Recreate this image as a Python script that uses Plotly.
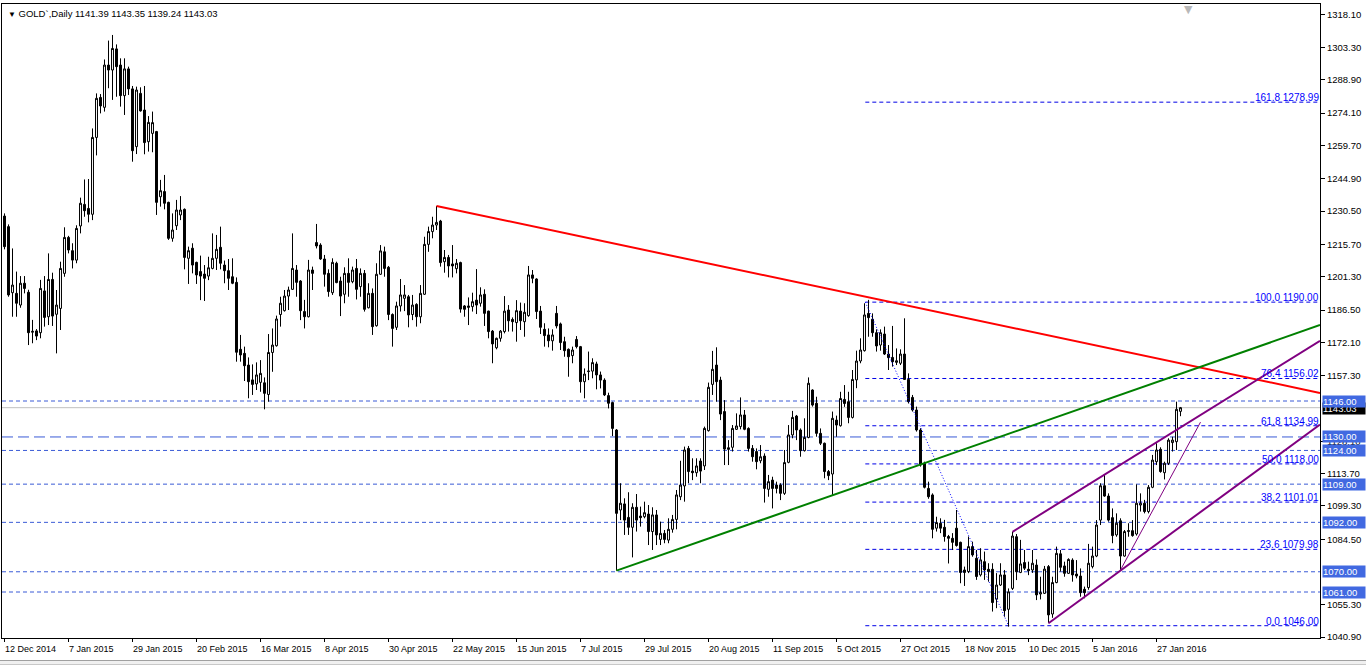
import plotly.graph_objects as go

# ---------------- data ----------------
open_ = [
1228.3,1223.6,1194.2,1193.9,1188.7,1198.4,1194.4,1176.6,1177.2,1176.4,
1195.0,1183.5,1200.1,1184.6,1187.2,1202.8,1218.8,1212.9,1208.7,1223.9,
1233.5,1231.7,1229.1,1263.3,1281.1,1276.7,1295.5,1293.3,1302.7,1295.5,
1281.9,1293.8,1284.9,1259.2,1282.9,1275.5,1261.4,1265.1,1265.9,1236.9,
1239.2,1234.4,1218.4,1224.0,1228.8,1231.3,1209.5,1214.0,1207.7,1203.6,
1202.5,1201.6,1205.0,1209.5,1214.4,1206.5,1204.0,1201.3,1198.8,1169.0,
1167.2,1162.0,1155.4,1153.6,1154.3,1154.1,1148.9,1167.6,1170.6,1184.5,
1186.2,1192.7,1195.7,1204.3,1199.4,1185.8,1183.5,1204.3,1216.5,1215.4,
1209.2,1202.8,1194.2,1207.3,1199.4,1193.5,1202.8,1199.1,1205.0,1196.9,
1202.8,1187.5,1193.9,1179.5,1202.4,1212.4,1205.5,1184.5,1178.8,1188.3,
1191.7,1192.4,1184.5,1189.0,1183.5,1193.5,1215.7,1221.4,1224.3,1226.1,
1208.0,1209.9,1207.0,1204.9,1207.6,1188.3,1188.3,1188.0,1190.9,1189.5,
1193.5,1186.0,1177.1,1169.7,1173.9,1176.9,1186.5,1182.3,1180.9,1186.0,
1181.3,1184.0,1202.1,1200.3,1186.0,1177.9,1175.4,1172.8,1185.0,1180.3,
1172.4,1169.0,1166.2,1173.4,1170.2,1154.6,1159.1,1159.3,1162.5,1157.6,
1155.3,1148.4,1145.3,1133.1,1097.5,1100.2,1094.2,1089.8,1098.7,1094.8,
1094.5,1095.7,1087.9,1095.3,1084.4,1087.1,1084.1,1088.9,1093.3,1103.4,
1108.2,1124.9,1114.8,1114.1,1119.3,1117.1,1132.8,1153.4,1162.0,1155.3,
1141.3,1125.2,1125.4,1133.4,1134.6,1139.8,1133.8,1124.9,1123.5,1119.4,
1121.5,1106.7,1110.8,1108.6,1108.6,1104.9,1118.7,1130.9,1139.3,1133.1,
1123.9,1129.8,1150.9,1145.0,1131.6,1127.2,1114.6,1113.5,1137.5,1135.0,
1146.7,1145.7,1138.7,1155.4,1163.8,1168.4,1185.0,1182.4,1176.4,1170.9,
1175.8,1166.9,1165.4,1163.2,1162.8,1166.9,1155.6,1147.6,1142.0,1133.1,
1118.3,1107.1,1104.2,1089.4,1091.6,1089.8,1085.7,1084.9,1089.4,1083.1,
1070.8,1070.1,1081.2,1076.0,1068.6,1074.5,1071.1,1071.1,1057.8,1064.1,
1068.6,1053.3,1062.6,1085.6,1069.7,1074.1,1071.1,1070.8,1073.0,1060.1,
1060.4,1072.3,1051.2,1065.2,1078.0,1072.6,1069.3,1075.2,1069.0,1068.1,
1062.2,1063.0,1072.3,1077.0,1093.0,1108.3,1103.7,1094.1,1086.4,1092.7,
1077.0,1087.9,1088.3,1086.8,1099.7,1100.5,1096.8,1107.6,1119.0,1124.5,
1114.1,1118.3,1127.5,1127.9,1141.39]

high = [
1229.5,1224.6,1213.9,1203.6,1201.6,1201.6,1195.5,1182.1,1178.0,1199.9,
1201.6,1211.7,1203.1,1195.4,1208.0,1223.3,1219.5,1216.2,1224.2,1236.5,
1244.6,1244.8,1267.3,1282.9,1282.6,1298.0,1306.4,1308.9,1304.7,1298.5,
1298.5,1294.8,1286.2,1285.9,1285.6,1286.2,1272.8,1274.8,1266.2,1244.4,
1246.6,1234.7,1229.5,1235.5,1237.2,1231.7,1214.7,1216.2,1208.0,1210.7,
1206.5,1210.2,1220.6,1219.9,1223.6,1208.5,1209.2,1209.5,1201.0,1175.4,
1170.2,1165.4,1162.3,1163.2,1164.2,1156.5,1175.8,1178.3,1184.0,1192.4,
1195.4,1196.9,1220.6,1206.5,1199.8,1191.0,1208.8,1205.8,1224.8,1216.2,
1211.0,1204.6,1209.5,1208.0,1201.3,1205.5,1209.5,1205.8,1209.2,1205.0,
1204.3,1198.4,1196.1,1207.3,1215.4,1214.7,1206.1,1185.0,1190.2,1200.3,
1197.6,1193.2,1193.2,1189.5,1197.6,1219.1,1223.6,1228.0,1232.8,1226.6,
1213.2,1211.0,1215.4,1209.2,1208.0,1188.7,1192.1,1194.2,1204.7,1196.6,
1195.7,1186.2,1177.6,1174.2,1177.6,1192.7,1188.7,1183.2,1190.9,1189.8,
1189.5,1206.1,1204.3,1200.6,1188.3,1180.6,1178.3,1177.9,1188.3,1180.9,
1174.6,1169.4,1170.2,1174.9,1170.5,1160.5,1168.0,1165.0,1163.5,1159.1,
1156.1,1149.7,1145.7,1133.5,1109.4,1102.7,1105.4,1100.5,1104.6,1099.0,
1101.2,1099.7,1098.7,1097.5,1092.3,1088.6,1093.8,1095.3,1106.4,1119.4,
1125.7,1126.0,1120.5,1120.5,1120.5,1134.6,1154.2,1168.3,1169.9,1156.8,
1146.4,1128.6,1135.3,1140.5,1147.6,1142.0,1134.3,1126.4,1124.9,1126.4,
1122.7,1113.1,1112.3,1110.1,1109.4,1124.2,1135.3,1141.6,1139.8,1133.8,
1138.3,1156.5,1151.2,1147.9,1133.8,1127.5,1115.3,1141.3,1139.5,1150.1,
1153.1,1150.1,1159.8,1168.4,1173.9,1189.5,1191.0,1185.0,1177.9,1177.9,
1179.1,1170.9,1179.4,1169.4,1169.0,1182.8,1158.3,1148.7,1143.5,1133.9,
1119.0,1110.1,1104.9,1094.5,1093.8,1093.1,1086.4,1087.2,1097.5,1083.4,
1072.3,1085.7,1083.4,1079.7,1080.5,1079.0,1073.8,1073.8,1069.4,1073.8,
1070.8,1062.6,1087.8,1086.8,1084.2,1079.7,1074.5,1079.7,1075.5,1067.8,
1072.6,1073.0,1067.8,1081.2,1079.7,1074.5,1076.0,1076.0,1075.2,1071.5,
1063.4,1082.4,1081.2,1093.0,1109.4,1113.1,1104.9,1098.2,1096.0,1093.8,
1088.6,1091.6,1093.0,1108.9,1104.9,1102.0,1108.6,1122.0,1127.2,1125.4,
1119.0,1129.4,1130.1,1145.7,1143.35]

low = [
1213.5,1192.4,1183.5,1183.5,1187.5,1193.9,1170.9,1171.7,1173.1,1173.9,
1179.1,1179.8,1179.4,1167.2,1177.6,1201.3,1211.7,1205.0,1207.3,1220.6,
1228.0,1225.5,1226.5,1255.3,1274.0,1274.8,1285.2,1280.0,1281.4,1277.0,
1273.3,1282.2,1252.5,1255.9,1274.8,1255.8,1257.0,1256.7,1228.8,1232.5,
1231.3,1217.7,1216.9,1222.1,1226.5,1204.6,1198.1,1202.8,1198.1,1190.9,
1190.5,1199.8,1204.6,1204.3,1204.6,1198.4,1195.4,1198.0,1163.5,1163.5,
1154.9,1147.2,1148.7,1150.9,1150.1,1142.3,1145.7,1159.0,1170.2,1179.1,
1185.8,1186.5,1195.4,1192.4,1182.0,1178.3,1183.2,1195.4,1213.9,1208.8,
1196.9,1192.4,1193.2,1198.4,1183.8,1189.5,1192.4,1198.4,1191.2,1192.4,
1185.8,1187.2,1175.4,1179.1,1202.1,1201.3,1182.0,1170.2,1177.6,1185.8,
1186.0,1178.8,1182.0,1179.1,1180.6,1193.2,1212.4,1218.4,1222.1,1205.8,
1203.1,1201.0,1201.0,1202.8,1185.3,1183.5,1179.8,1185.8,1184.7,1188.0,
1179.4,1173.9,1162.8,1169.0,1172.4,1176.1,1176.9,1176.9,1172.4,1177.6,
1174.6,1183.5,1198.4,1182.5,1175.8,1170.2,1169.9,1168.4,1178.3,1168.7,
1165.7,1156.8,1162.8,1169.4,1149.7,1147.2,1155.3,1156.1,1151.2,1151.6,
1148.2,1142.7,1130.4,1070.5,1093.0,1086.4,1086.4,1076.4,1087.9,1090.1,
1093.8,1081.9,1079.7,1081.9,1081.9,1082.7,1082.7,1087.4,1088.9,1101.9,
1101.2,1109.4,1110.8,1112.3,1109.4,1115.3,1132.4,1148.7,1145.7,1137.5,
1117.5,1117.5,1123.5,1133.1,1133.4,1133.0,1123.5,1119.0,1115.6,1118.3,
1100.8,1103.4,1098.2,1104.9,1101.9,1104.2,1118.3,1129.4,1128.6,1121.2,
1123.5,1129.4,1143.5,1130.1,1126.4,1111.6,1110.8,1104.2,1130.1,1134.6,
1143.4,1136.1,1138.2,1151.7,1162.8,1168.0,1174.6,1174.6,1168.0,1168.4,
1166.5,1159.8,1161.3,1162.0,1162.0,1155.4,1144.9,1141.3,1132.4,1116.8,
1107.1,1102.5,1084.9,1087.9,1087.2,1083.4,1073.7,1079.7,1081.2,1064.9,
1063.7,1069.4,1076.7,1066.4,1067.9,1066.4,1065.6,1052.3,1053.8,1063.7,
1050.0,1045.6,1061.9,1066.3,1069.4,1070.8,1068.5,1069.5,1057.4,1057.7,
1060.1,1047.1,1049.5,1064.9,1070.1,1067.8,1069.0,1065.6,1067.1,1058.9,
1058.2,1062.0,1071.5,1076.5,1090.8,1103.4,1092.3,1082.7,1085.6,1070.8,
1076.7,1085.6,1085.6,1086.1,1096.8,1096.0,1096.0,1107.2,1117.5,1114.1,
1111.1,1117.5,1123.5,1124.2,1139.24]

close = [
1214.7,1193.2,1197.6,1189.5,1198.4,1196.1,1176.4,1177.0,1174.9,1196.1,
1183.2,1200.1,1183.8,1188.7,1205.0,1218.8,1213.2,1208.7,1222.8,1234.0,
1230.7,1229.1,1263.3,1280.7,1277.3,1295.5,1293.3,1302.9,1294.8,1281.9,
1293.8,1284.9,1257.4,1284.4,1275.1,1261.0,1270.0,1269.9,1234.4,1239.6,
1234.0,1218.4,1222.1,1231.0,1231.0,1209.9,1212.9,1206.5,1202.1,1201.6,
1200.6,1205.3,1209.5,1213.5,1207.3,1204.0,1200.6,1198.4,1167.7,1166.5,
1161.7,1154.6,1153.4,1157.6,1158.3,1149.4,1167.6,1170.9,1182.5,1189.5,
1192.7,1195.4,1205.0,1198.8,1186.2,1183.5,1204.3,1202.8,1215.0,1209.2,
1202.4,1194.7,1207.7,1198.7,1192.7,1202.8,1198.8,1204.3,1195.7,1202.8,
1186.8,1193.9,1179.1,1202.4,1212.8,1205.0,1184.5,1178.3,1188.3,1193.2,
1193.2,1184.3,1188.7,1183.5,1193.9,1215.7,1221.4,1224.3,1225.5,1207.6,
1209.9,1206.1,1206.1,1207.3,1186.9,1186.8,1187.7,1190.2,1188.7,1193.2,
1185.0,1176.9,1171.4,1173.9,1177.1,1186.0,1181.7,1181.3,1186.2,1181.7,
1185.5,1202.1,1200.6,1185.8,1178.8,1175.1,1172.8,1175.4,1179.4,1172.0,
1168.4,1165.7,1168.7,1170.2,1154.6,1158.0,1159.3,1163.1,1157.6,1155.3,
1148.7,1145.0,1133.8,1096.0,1100.5,1093.0,1089.8,1098.7,1093.0,1094.1,
1096.3,1087.9,1095.3,1086.4,1087.1,1084.4,1088.9,1093.3,1104.2,1108.6,
1124.2,1114.6,1114.1,1117.1,1114.8,1133.8,1152.1,1160.1,1154.6,1140.2,
1124.6,1124.5,1133.8,1134.9,1139.8,1133.4,1124.9,1121.2,1119.0,1121.2,
1107.1,1110.1,1107.1,1107.1,1104.9,1118.6,1130.9,1138.7,1133.1,1123.9,
1129.8,1153.9,1144.2,1131.6,1127.2,1114.6,1112.8,1138.3,1135.3,1147.1,
1144.9,1138.7,1155.6,1163.8,1168.7,1184.3,1183.1,1176.4,1170.5,1176.4,
1166.9,1165.3,1163.5,1163.9,1166.9,1155.6,1145.7,1142.0,1133.1,1117.5,
1107.6,1103.4,1088.9,1091.9,1089.4,1085.7,1084.9,1083.1,1081.7,1069.7,
1069.7,1081.2,1077.5,1067.9,1075.3,1070.8,1070.1,1056.3,1064.1,1068.6,
1052.7,1061.1,1085.9,1070.0,1073.5,1071.6,1070.5,1073.8,1059.7,1060.7,
1071.2,1050.8,1065.2,1078.2,1072.0,1069.3,1075.5,1068.6,1068.1,1060.7,
1060.7,1073.8,1077.0,1090.8,1108.3,1103.7,1093.0,1086.1,1091.6,1077.0,
1087.9,1088.3,1086.1,1100.5,1100.5,1096.8,1107.6,1119.7,1124.2,1114.6,
1118.3,1128.6,1128.6,1142.3,1143.03]

bars = list(range(len(close)))

date_label_bars = [0, 16, 32, 48, 64, 80, 96, 112, 128, 144, 160, 176, 192, 208,
                   224, 240, 256, 272, 288]
date_labels = ["12 Dec 2014", "7 Jan 2015", "29 Jan 2015", "20 Feb 2015", "16 Mar 2015",
               "8 Apr 2015", "30 Apr 2015", "22 May 2015", "15 Jun 2015", "7 Jul 2015",
               "29 Jul 2015", "20 Aug 2015", "11 Sep 2015", "5 Oct 2015", "27 Oct 2015",
               "18 Nov 2015", "10 Dec 2015", "5 Jan 2016", "27 Jan 2016"]

price_ticks = [1318.10, 1303.30, 1288.90, 1274.10, 1259.70, 1244.90, 1230.50, 1215.70,
               1201.30, 1186.50, 1172.10, 1157.30, 1128.10, 1113.70, 1099.30,
               1084.50, 1055.30, 1040.90]

level_prices = [1146.00, 1130.00, 1124.00, 1109.00, 1092.00, 1070.00, 1061.00]
level_dashdot = [False, True, False, False, False, False, False]

fib_ratios = ["161.8", "100.0", "76.4", "61.8", "50.0", "38.2", "23.6", "0.0"]
fib_prices = [1278.99, 1190.00, 1156.02, 1134.99, 1118.00, 1101.01, 1079.98, 1046.00]
fib_anchor_x = [215.2, 251.0]
fib_anchor_y = [1190.00, 1046.00]

red_x, red_y = [108, 328.875], [1232.8, 1149.6]
green_x, green_y = [153, 328.875], [1070.5, 1179.8]
purple_up_x, purple_up_y = [252, 328.875], [1087.8, 1172.8]
purple_lo_x, purple_lo_y = [261, 328.875], [1047.1, 1135.5]
purple_thin_x, purple_thin_y = [279, 299], [1070.8, 1136.6]

last_price = 1143.03
header = "GOLD`,Daily 1141.39 1143.35 1139.24 1143.03"

X_RANGE = [-0.625, 328.875]
Y_RANGE = [1040.53, 1322.68]

FONT = "Liberation Sans, Arial, DejaVu Sans, sans-serif"
LEVEL_COLOR = "#3A5BD6"

fig = go.Figure()

fig.add_trace(go.Candlestick(
    x=bars, open=open_, high=high, low=low, close=close,
    increasing=dict(line=dict(color="black", width=1), fillcolor="white"),
    decreasing=dict(line=dict(color="black", width=1), fillcolor="black"),
    whiskerwidth=0, showlegend=False, hoverinfo="skip"))

def line_trace(xs, ys, color, width, dash="solid"):
    fig.add_trace(go.Scatter(x=xs, y=ys, mode="lines",
                             line=dict(color=color, width=width, dash=dash),
                             showlegend=False, hoverinfo="skip"))

line_trace(fib_anchor_x, fib_anchor_y, "#0000FF", 1, "1px,2px")
line_trace(red_x, red_y, "#FF0000", 2)
line_trace(green_x, green_y, "#008000", 2)
line_trace(purple_up_x, purple_up_y, "#800080", 2)
line_trace(purple_lo_x, purple_lo_y, "#800080", 2)
line_trace(purple_thin_x, purple_thin_y, "#800080", 1)

shapes = []
# current price line
shapes.append(dict(type="line", xref="paper", x0=0, x1=1, yref="y", y0=last_price, y1=last_price,
                   line=dict(color="#C0C0C0", width=1), layer="below"))
# horizontal levels
for p, dd in zip(level_prices, level_dashdot):
    shapes.append(dict(type="line", xref="paper", x0=0, x1=1, yref="y", y0=p, y1=p,
                       line=dict(color=LEVEL_COLOR, width=1, dash="11px,5px" if dd else "4px,3px"),
                       layer="below"))
# fibonacci levels
for p in fib_prices:
    shapes.append(dict(type="line", xref="x", x0=fib_anchor_x[0], x1=X_RANGE[1], yref="y", y0=p, y1=p,
                       line=dict(color="#0000E6", width=1, dash="4px,3px"), layer="below"))
# window bottom strip
shapes.append(dict(type="rect", xref="paper", yref="paper", x0=-0.01, x1=1.05, y0=-0.0426, y1=-0.0355,
                   fillcolor="#F0F0F0", line=dict(color="#A0A0A0", width=1), layer="below"))

annotations = []
annotations.append(dict(xref="paper", yref="paper", x=0, y=1, xanchor="left", yanchor="top",
                        xshift=4, yshift=-2, showarrow=False,
                        text="<span style='font-size:8px'>▼</span> " + header,
                        font=dict(family=FONT, size=9.5, color="black")))
annotations.append(dict(xref="x", yref="paper", x=296, y=1, xanchor="center", yanchor="top",
                        yshift=3, showarrow=False, text="▼",
                        font=dict(family="DejaVu Sans", size=11, color="#B8B8B8")))
for b, t in zip(date_label_bars, date_labels):
    annotations.append(dict(xref="x", yref="paper", x=b, y=0, xanchor="left", yanchor="top",
                            xshift=-2, yshift=-4, showarrow=False, text=t,
                            font=dict(family=FONT, size=9, color="black")))
for r, p in zip(fib_ratios, fib_prices):
    annotations.append(dict(xref="paper", yref="y", x=1, y=p, xanchor="right", yanchor="bottom",
                            xshift=1, yshift=-3, showarrow=False, text=f"{r} {p:.2f}",
                            font=dict(family=FONT, size=10, color="#0000FF")))
# current price label first, so the 1146.00 box sits on top of it as in the reference
annotations.append(dict(xref="paper", yref="y", x=1, y=last_price, xanchor="left", yanchor="middle",
                        xshift=2, yshift=-1, showarrow=False, text=f"{last_price:.2f}", bgcolor="black",
                        width=42, height=11, borderpad=0, align="left",
                        font=dict(family=FONT, size=9.5, color="white")))
for p in level_prices:
    annotations.append(dict(xref="paper", yref="y", x=1, y=p, xanchor="left", yanchor="middle",
                            xshift=2, showarrow=False, text=f"{p:.2f}", bgcolor="#4169E1",
                            width=42, height=11, borderpad=0, align="left",
                            font=dict(family=FONT, size=9.5, color="white")))

fig.update_layout(
    width=1366, height=665,
    margin=dict(l=2, r=46, t=4, b=27),
    paper_bgcolor="white", plot_bgcolor="white",
    showlegend=False,
    shapes=shapes, annotations=annotations,
    xaxis=dict(range=X_RANGE, rangeslider=dict(visible=False), showgrid=False, zeroline=False,
               showticklabels=False, tickvals=date_label_bars, ticks="outside", ticklen=3,
               tickcolor="black", showline=True, linecolor="black", linewidth=1, mirror=True),
    yaxis=dict(range=Y_RANGE, side="right", showgrid=False, zeroline=False,
               tickvals=price_ticks, ticktext=[f"{v:.2f}" for v in price_ticks],
               ticks="outside", ticklen=4, tickcolor="black",
               tickfont=dict(family=FONT, size=9.5, color="black"),
               showline=True, linecolor="black", linewidth=1, mirror=True),
)

fig.write_html("out.html", config={"displayModeBar": False},
               post_script="document.body.style.margin='0';document.body.style.overflow='hidden';")
